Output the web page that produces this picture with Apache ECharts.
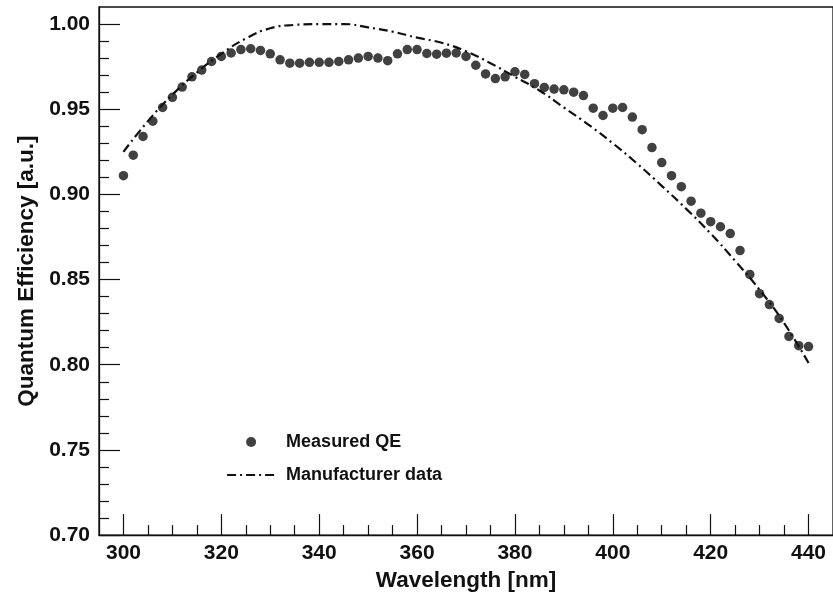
<!DOCTYPE html>
<html>
<head>
<meta charset="utf-8">
<script src="https://cdn.jsdelivr.net/npm/echarts@6/dist/echarts.min.js"></script>
<style>
  html, body { margin: 0; padding: 0; background: #fff; }
  #qe { width: 833px; height: 597px; }
</style>
</head>
<body>
<div id="qe"></div>
<script>
// measured points, every 2 nm
var wavelength = [300, 302, 304, 306, 308, 310, 312, 314, 316, 318,
  320, 322, 324, 326, 328, 330, 332, 334, 336, 338,
  340, 342, 344, 346, 348, 350, 352, 354, 356, 358,
  360, 362, 364, 366, 368, 370, 372, 374, 376, 378,
  380, 382, 384, 386, 388, 390, 392, 394, 396, 398,
  400, 402, 404, 406, 408, 410, 412, 414, 416, 418,
  420, 422, 424, 426, 428, 430, 432, 434, 436, 438, 440];
var measuredQE = [0.911, 0.923, 0.934, 0.943, 0.951, 0.957, 0.963, 0.969, 0.973, 0.978,
  0.981, 0.983, 0.985, 0.9855, 0.9845, 0.9825, 0.979, 0.977, 0.977, 0.9775,
  0.9775, 0.9775, 0.978, 0.979, 0.980, 0.981, 0.980, 0.9785, 0.9825, 0.985,
  0.985, 0.9827, 0.9823, 0.9829, 0.983, 0.981, 0.9758, 0.9707, 0.968, 0.969,
  0.972, 0.9704, 0.965, 0.9628, 0.9618, 0.9614, 0.960, 0.958, 0.9506, 0.9463,
  0.9506, 0.951, 0.9454, 0.938, 0.9275, 0.9187, 0.911, 0.9045, 0.896, 0.889,
  0.884, 0.881, 0.877, 0.867, 0.853, 0.8417, 0.8353, 0.8272, 0.8166, 0.8112, 0.8107];

// manufacturer curve
var mfrWavelength = [300, 305, 310, 315, 320, 325, 330, 335, 340, 345,
  350, 355, 360, 365, 370, 375, 380, 385, 390, 395,
  400, 405, 410, 415, 420, 425, 430, 435, 440];
var mfrQE = [0.925, 0.943, 0.9585, 0.9715, 0.9825, 0.9915, 0.9975, 0.9995, 1.000, 1.000,
  0.998, 0.9955, 0.992, 0.989, 0.984, 0.977, 0.969, 0.961, 0.951, 0.941,
  0.930, 0.918, 0.905, 0.8915, 0.877, 0.861, 0.844, 0.8245, 0.801];

// tick positions
var xMajorTicks = [300, 320, 340, 360, 380, 400, 420, 440];
var xMinorTicks = [305, 310, 315, 325, 330, 335, 345, 350, 355, 365, 370, 375,
  385, 390, 395, 405, 410, 415, 425, 430, 435];
var yMajorTicks = [0.70, 0.75, 0.80, 0.85, 0.90, 0.95, 1.00];
var yMinorTicks = [0.71, 0.72, 0.73, 0.74, 0.76, 0.77, 0.78, 0.79, 0.81, 0.82, 0.83, 0.84,
  0.86, 0.87, 0.88, 0.89, 0.91, 0.92, 0.93, 0.94, 0.96, 0.97, 0.98, 0.99];

var ink = '#111';
var font = "'Liberation Sans', Arial, Helvetica, sans-serif";

var chart = echarts.init(document.getElementById('qe'), null, { renderer: 'canvas' });

function zip(xs, ys) {
  var out = [];
  for (var i = 0; i < xs.length; i++) out.push([xs[i], ys[i]]);
  return out;
}

chart.setOption({
  animation: false,
  backgroundColor: '#fff',
  textStyle: { fontFamily: font },
  grid: {
    left: 99, right: -5.5, top: 7, bottom: 56,
    show: true, borderColor: ink, borderWidth: 1.3, backgroundColor: 'transparent'
  },
  legend: {
    orient: 'vertical',
    left: 221,
    top: 428,
    itemWidth: 48,
    itemHeight: 10,
    itemGap: 15,
    selectedMode: false,
    textStyle: { fontSize: 18, fontWeight: 'bold', color: ink, fontFamily: font, padding: [0, 0, 0, 6] },
    data: [
      { name: 'Measured QE', icon: 'circle' },
      { name: 'Manufacturer data', itemStyle: { opacity: 0 }, lineStyle: { width: 2.2 } }
    ]
  },
  xAxis: [
    {
      type: 'value', min: 295, max: 445, position: 'bottom',
      name: 'Wavelength [nm]', nameLocation: 'middle', nameGap: 31,
      nameTextStyle: { fontSize: 22.5, fontWeight: 'bold', color: ink, fontFamily: font },
      axisLine: { lineStyle: { color: ink, width: 1.3 } },
      axisTick: { inside: true, length: 21, lineStyle: { color: ink, width: 1.2 }, customValues: xMajorTicks },
      axisLabel: { margin: 8, fontSize: 21, fontWeight: 'bold', color: ink, fontFamily: font, customValues: xMajorTicks },
      splitLine: { show: false }
    },
    {
      type: 'value', min: 295, max: 445, position: 'bottom',
      axisLine: { show: false },
      axisTick: { inside: true, length: 10, lineStyle: { color: ink, width: 1.2 }, customValues: xMinorTicks },
      axisLabel: { show: false },
      splitLine: { show: false }
    }
  ],
  yAxis: [
    {
      type: 'value', min: 0.70, max: 1.01, position: 'left',
      name: 'Quantum Efficiency [a.u.]', nameLocation: 'middle', nameRotate: 90, nameGap: 60,
      nameTextStyle: { fontSize: 22.5, fontWeight: 'bold', color: ink, fontFamily: font },
      axisLine: { lineStyle: { color: ink, width: 1.3 } },
      axisTick: { inside: true, length: 21, lineStyle: { color: ink, width: 1.2 }, customValues: yMajorTicks },
      axisLabel: {
        margin: 9, fontSize: 21, fontWeight: 'bold', color: ink, fontFamily: font,
        padding: [8, 0, 0, 0],
        customValues: yMajorTicks,
        formatter: function (v) { return v.toFixed(2); }
      },
      splitLine: { show: false }
    },
    {
      type: 'value', min: 0.70, max: 1.01, position: 'left',
      axisLine: { show: false },
      axisTick: { inside: true, length: 10, lineStyle: { color: ink, width: 1.2 }, customValues: yMinorTicks },
      axisLabel: { show: false },
      splitLine: { show: false }
    }
  ],
  series: [
    {
      name: 'Measured QE',
      type: 'scatter',
      xAxisIndex: 0, yAxisIndex: 0,
      symbol: 'circle',
      symbolSize: 9.5,
      itemStyle: { color: ink },
      z: 3,
      data: zip(wavelength, measuredQE)
    },
    {
      name: 'Manufacturer data',
      type: 'line',
      xAxisIndex: 0, yAxisIndex: 0,
      smooth: true,
      symbol: 'none',
      color: ink,
      lineStyle: { color: ink, width: 2.2, type: [9, 4, 2, 4] },
      z: 2,
      data: zip(mfrWavelength, mfrQE)
    }
  ]
});

window.addEventListener('resize', function () { chart.resize(); });
</script>
</body>
</html>
